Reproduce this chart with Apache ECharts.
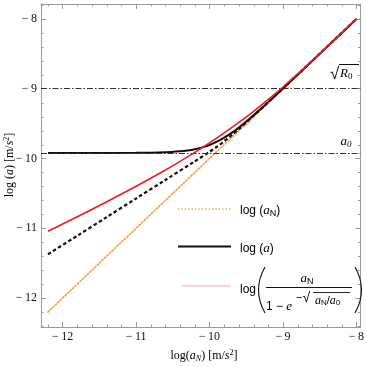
<!DOCTYPE html>
<html>
<head>
<meta charset="utf-8">
<script src="https://cdn.jsdelivr.net/npm/echarts@6/dist/echarts.min.js"></script>
<style>html,body{margin:0;padding:0;background:#fff}#c{width:367px;height:367px}</style>
</head>
<body>
<div id="c"></div>
<script>
// ---- data ----
var X_MIN = -12.295, X_MAX = -7.946;
var Y_MIN = -12.416, Y_MAX = -7.785;
var MAJOR_TICKS = [-12, -11, -10, -9, -8];
var MINOR_X = [-12.2,-11.8,-11.6,-11.4,-11.2,-10.8,-10.6,-10.4,-10.2,-9.8,-9.6,-9.4,-9.2,-8.8,-8.6,-8.4,-8.2];
var MINOR_Y = [-12.4,-12.2,-11.8,-11.6,-11.4,-11.2,-10.8,-10.6,-10.4,-10.2,-9.8,-9.6,-9.4,-9.2,-8.8,-8.6,-8.4,-8.2,-7.8];

var ORANGE_X = [-12.2, -8.0];
var ORANGE_Y = [-12.2, -8.0];

var DASH_X = [-12.2,-11.8,-11.4,-11.0,-10.6,-10.2,-10.0,-9.9,-9.8,-9.7,-9.6,-9.5,-9.4,-9.2,-9.0,-8.6,-8.0];
var DASH_Y = [-11.373,-11.107,-10.840,-10.573,-10.307,-10.040,-9.905,-9.832,-9.752,-9.667,-9.577,-9.483,-9.386,-9.191,-8.994,-8.597,-7.999];

var BLACK_X = [-12.2,-11.6,-11.0,-10.6,-10.4,-10.3,-10.2,-10.1,-10.0,-9.9,-9.8,-9.7,-9.6,-9.5,-9.4,-9.3,-9.2,-9.1,-9.0,-8.8,-8.6,-8.4,-8.2,-8.0];
var BLACK_Y = [-9.920,-9.920,-9.919,-9.911,-9.897,-9.885,-9.867,-9.841,-9.806,-9.759,-9.701,-9.633,-9.555,-9.471,-9.381,-9.288,-9.192,-9.095,-8.997,-8.799,-8.600,-8.400,-8.200,-8.000];

var RED_X = [-12.2,-11.8,-11.4,-11.0,-10.6,-10.4,-10.2,-10.0,-9.8,-9.6,-9.4,-9.2,-9.0,-8.8,-8.6,-8.4,-8.2,-8.0];
var RED_Y = [-11.044,-10.835,-10.621,-10.399,-10.165,-10.041,-9.912,-9.777,-9.634,-9.483,-9.323,-9.154,-8.975,-8.788,-8.596,-8.399,-8.200,-8.000];

var SQRT_R0 = -9.0;
var A0 = -9.92;

function zip(xs, ys) { return xs.map(function (x, i) { return [x, ys[i]]; }); }

var FRAME = '#9a9a9a';
var SERIF = 'Liberation Serif';
var SANS = 'Liberation Sans';

function tickLabel(v) {
  if (MAJOR_TICKS.indexOf(Math.round(v * 1000) / 1000) < 0) return '';
  return '\u2212\u2009' + Math.abs(Math.round(v));
}

function axisBase(extra) {
  var o = {
    type: 'value', splitLine: {show: false},
    axisLine: {show: true, lineStyle: {color: FRAME, width: 1}},
    axisTick: {show: true, inside: true, length: 5, lineStyle: {color: FRAME, width: 1}},
    axisLabel: {show: false}
  };
  for (var k in extra) o[k] = extra[k];
  return o;
}

function minorTicks(values, dim) {
  return {
    type: 'custom', silent: true, z: 1, clip: false,
    xAxisIndex: 0, yAxisIndex: 0,
    data: values.map(function (v) { return dim === 'x' ? [v, Y_MIN] : [X_MIN, v]; }),
    renderItem: function (params, api) {
      var len = 2.5, a, b;
      var st = {stroke: FRAME, lineWidth: 1};
      if (dim === 'x') {
        a = api.coord([api.value(0), Y_MIN]); b = api.coord([api.value(0), Y_MAX]);
        var px = Math.round(a[0]) + 0.5;
        return {type: 'group', children: [
          {type: 'line', shape: {x1: px, y1: a[1], x2: px, y2: a[1] - len}, style: st},
          {type: 'line', shape: {x1: px, y1: b[1], x2: px, y2: b[1] + len}, style: st}
        ]};
      } else {
        a = api.coord([X_MIN, api.value(1)]); b = api.coord([X_MAX, api.value(1)]);
        var py = Math.round(a[1]) + 0.5;
        return {type: 'group', children: [
          {type: 'line', shape: {x1: a[0], y1: py, x2: a[0] + len, y2: py}, style: st},
          {type: 'line', shape: {x1: b[0], y1: py, x2: b[0] - len, y2: py}, style: st}
        ]};
      }
    }
  };
}

var richSerif = {
  n: {fontFamily: SERIF, fontSize: 12, color: '#111'},
  i: {fontFamily: SERIF, fontSize: 12, fontStyle: 'italic', color: '#111'},
  sub: {fontFamily: SERIF, fontSize: 8, fontStyle: 'italic', color: '#111', padding: [5, 0, 0, 0]},
  sup: {fontFamily: SERIF, fontSize: 8, color: '#111', padding: [0, 0, 6, 0]}
};
var richSans = {
  s: {fontFamily: SANS, fontSize: 12, color: '#111'},
  i: {fontFamily: SERIF, fontSize: 13, fontStyle: 'italic', color: '#111'},
  sub: {fontFamily: SANS, fontSize: 9, color: '#111', padding: [5, 0, 0, 0]},
  sm: {fontFamily: SANS, fontSize: 11, color: '#111'},
  rt: {fontFamily: SANS, fontSize: 14, color: '#111'},
  si: {fontFamily: SERIF, fontSize: 12, fontStyle: 'italic', color: '#111'},
  ssub: {fontFamily: SANS, fontSize: 8, color: '#111', padding: [4, 0, 0, 0]}
};

var chart = echarts.init(document.getElementById('c'), null, {renderer: 'canvas'});
chart.setOption({
  animation: false,
  backgroundColor: '#fff',
  grid: {left: 41, right: 2, top: 4, bottom: 40, containLabel: false},
  xAxis: [
    axisBase({min: X_MIN, max: X_MAX, position: 'bottom',
      axisLabel: {show: true, margin: 4, formatter: tickLabel, fontFamily: SERIF, fontSize: 12, color: '#111'}}),
    axisBase({min: X_MIN, max: X_MAX, position: 'top'})
  ],
  yAxis: [
    axisBase({min: Y_MIN, max: Y_MAX, position: 'left',
      axisLabel: {show: true, margin: 4, formatter: tickLabel, fontFamily: SERIF, fontSize: 12, color: '#111'}}),
    axisBase({min: Y_MIN, max: Y_MAX, position: 'right'})
  ],
  series: [
    minorTicks(MINOR_X, 'x'),
    minorTicks(MINOR_Y, 'y'),
    {
      type: 'line', data: [], symbol: 'none', silent: true,
      markLine: {
        silent: true, symbol: 'none', label: {show: false},
        lineStyle: {color: '#333', width: 1, type: [6, 2, 1.5, 2]},
        data: [{yAxis: SQRT_R0}, {yAxis: A0}]
      }
    },
    {type: 'line', data: zip(ORANGE_X, ORANGE_Y), symbol: 'none', silent: true, z: 2,
      lineStyle: {color: '#f7a043', width: 1.7, type: [1.3, 2.1], cap: 'round'}},
    {type: 'line', data: zip(DASH_X, DASH_Y), symbol: 'none', smooth: 0.3, silent: true, z: 3,
      lineStyle: {color: '#111', width: 2.2, type: [3.5, 2.5]}},
    {type: 'line', data: zip(BLACK_X, BLACK_Y), symbol: 'none', smooth: 0.3, silent: true, z: 4,
      lineStyle: {color: '#111', width: 2}},
    {type: 'line', data: zip(RED_X, RED_Y), symbol: 'none', smooth: 0.3, silent: true, z: 5,
      lineStyle: {color: '#ee1c1c', width: 1.6}}
  ],
  graphic: [
    // axis titles
    {type: 'text', x: 204, y: 356, z: 10, style: {
      text: '{n|log(}{i|a}{sub|N}{n|) [m/}{i|s}{sup|2}{n|]}', rich: richSerif, align: 'center', verticalAlign: 'middle'}},
    {type: 'text', x: 10, y: 165, rotation: Math.PI / 2, z: 10, style: {
      text: '{n|log (}{i|a}{n|) [m/}{i|s}{sup|2}{n|]}', rich: richSerif, align: 'center', verticalAlign: 'middle'}},
    // sqrt(R0) label
    {type: 'text', x: 330, y: 74, z: 10, style: {text: '\u221A', font: '17px ' + SANS, fill: '#111', align: 'left', verticalAlign: 'middle'}},
    {type: 'line', z: 10, shape: {x1: 339, y1: 64.5, x2: 359, y2: 64.5}, style: {stroke: '#111', lineWidth: 1}},
    {type: 'text', x: 340, y: 74, z: 10, style: {text: '{i|R}{sub|0}', rich: {
      i: {fontFamily: SERIF, fontSize: 13, fontStyle: 'italic', color: '#111'},
      sub: {fontFamily: SERIF, fontSize: 9, color: '#111', padding: [5, 0, 0, 0]}}, align: 'left', verticalAlign: 'middle'}},
    // a0 label
    {type: 'text', x: 346, y: 142, z: 10, style: {text: '{i|a}{sub|0}', rich: {
      i: {fontFamily: SERIF, fontSize: 13, fontStyle: 'italic', color: '#111'},
      sub: {fontFamily: SERIF, fontSize: 9, fontStyle: 'italic', color: '#111', padding: [5, 0, 0, 0]}}, align: 'center', verticalAlign: 'middle'}},
    // legend samples
    {type: 'line', z: 10, shape: {x1: 178, y1: 209, x2: 231, y2: 209}, style: {stroke: '#f7a043', lineWidth: 1.7, lineDash: [1.3, 2.1]}},
    {type: 'line', z: 10, shape: {x1: 178, y1: 246.5, x2: 231, y2: 246.5}, style: {stroke: '#111', lineWidth: 2}},
    {type: 'line', z: 10, shape: {x1: 182, y1: 286, x2: 231, y2: 286}, style: {stroke: '#f6aaaa', lineWidth: 1}},
    // legend texts
    {type: 'text', x: 240, y: 211, z: 10, style: {text: '{s|log (}{i|a}{sub|N}{s|)}', rich: richSans, align: 'left', verticalAlign: 'middle'}},
    {type: 'text', x: 240, y: 248.5, z: 10, style: {text: '{s|log (}{i|a}{s|)}', rich: richSans, align: 'left', verticalAlign: 'middle'}},
    {type: 'text', x: 240, y: 290, z: 10, style: {text: '{s|log}', rich: richSans, align: 'left', verticalAlign: 'middle'}},
    {type: 'bezierCurve', z: 10, shape: {x1: 265, y1: 267, x2: 265, y2: 313, cpx1: 252, cpy1: 290}, style: {stroke: '#111', lineWidth: 1.1, fill: null}},
    {type: 'bezierCurve', z: 10, shape: {x1: 355, y1: 267, x2: 355, y2: 313, cpx1: 368, cpy1: 290}, style: {stroke: '#111', lineWidth: 1.1, fill: null}},
    {type: 'text', x: 307, y: 279, z: 10, style: {text: '{i|a}{sub|N}', rich: richSans, align: 'center', verticalAlign: 'middle'}},
    {type: 'line', z: 10, shape: {x1: 266, y1: 287.5, x2: 352, y2: 287.5}, style: {stroke: '#111', lineWidth: 1}},
    {type: 'text', x: 266, y: 307, z: 10, style: {text: '{s|1 \u2212 }{i|e}', rich: richSans, align: 'left', verticalAlign: 'middle'}},
    {type: 'text', x: 296, y: 298, z: 10, style: {text: '{sm|\u2212}{rt|\u221A}', rich: richSans, align: 'left', verticalAlign: 'middle'}},
    {type: 'line', z: 10, shape: {x1: 313, y1: 292.5, x2: 350, y2: 292.5}, style: {stroke: '#111', lineWidth: 0.9}},
    {type: 'text', x: 315, y: 301, z: 10, style: {text: '{si|a}{ssub|N}{sm|/}{si|a}{ssub|0}', rich: richSans, align: 'left', verticalAlign: 'middle'}}
  ]
});
</script>
</body>
</html>
